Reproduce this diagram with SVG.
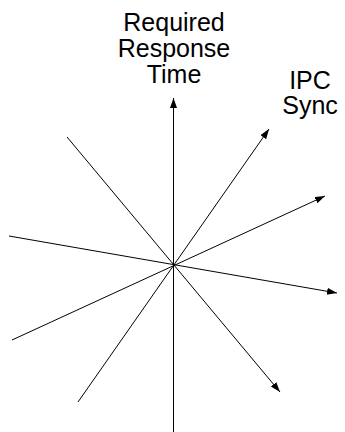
<svg xmlns="http://www.w3.org/2000/svg" width="345" height="432" viewBox="0 0 345 432">
<style>
.t{font-family:"Liberation Sans",Arial,sans-serif;font-size:25px;fill:#000;text-anchor:middle}
.ln{stroke:#000;stroke-width:1;fill:none}
</style>
<defs>
<marker id="ah" markerUnits="userSpaceOnUse" markerWidth="11" markerHeight="8" refX="10" refY="3.5" orient="auto">
<path d="M0,0 L10,3.5 L0,7 z" fill="#000"/>
</marker>
</defs>
<rect width="345" height="432" fill="#fff"/>
<g id="label-response">
<text class="t" x="174" y="31">Required</text>
<text class="t" x="174" y="57">Response</text>
<text class="t" x="174" y="83">Time</text>
</g>
<g id="label-ipc">
<text class="t" x="310" y="89">IPC</text>
<text class="t" x="310" y="114">Sync</text>
</g>
<g id="connectors">
<line class="ln" x1="173.5" y1="432" x2="173.5" y2="98" marker-end="url(#ah)"/>
<line class="ln" x1="67" y1="137" x2="280" y2="392" marker-end="url(#ah)"/>
<line class="ln" x1="78" y1="402" x2="269" y2="129" marker-end="url(#ah)"/>
<line class="ln" x1="12" y1="340" x2="325" y2="196" marker-end="url(#ah)"/>
<line class="ln" x1="9" y1="236" x2="337" y2="293" marker-end="url(#ah)"/>
</g>
</svg>
